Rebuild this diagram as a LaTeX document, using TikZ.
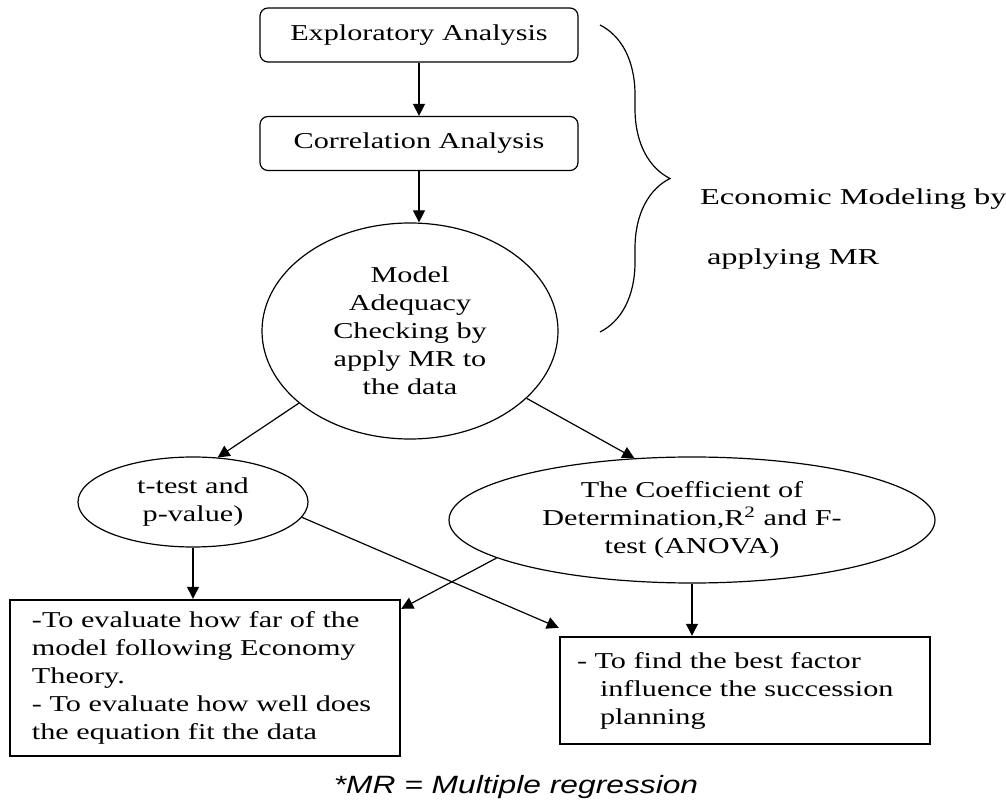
\documentclass[tikz,border=0pt]{standalone}
\usepackage{fontspec}
\setmainfont{Liberation Serif}[FakeStretch=1.33]
\newfontfamily\bracefont{Liberation Serif}[FakeStretch=1.43]
\newfontfamily\notefont{Liberation Sans}[FakeStretch=1.27]
\usepackage{tikz}
\usetikzlibrary{shapes.geometric,arrows.meta,decorations.pathreplacing}
\tikzstyle{roundbox} =[
    draw,
    rounded corners=4pt,
    line width=0.6pt,
    minimum width=159pt,
    minimum height=27pt,
    inner sep=0pt
    ]
\tikzstyle{oval} =[
    draw,
    ellipse,
    line width=0.6pt,
    inner sep=0pt,
    align=center
    ]
\tikzstyle{notebox} =[
    draw,
    rectangle,
    line width=1.2pt,
    inner ysep=0pt,
    align=left
    ]
\tikzstyle{flowarrow} =[
    line width=0.6pt,
    -{Triangle[length=6pt,width=6pt]}
    ]

\begin{document}
\begin{tikzpicture}[x=0.5pt,y=-0.5pt,
    every node/.style={font=\fontsize{11.35pt}{14pt}\selectfont}]
\useasboundingbox (0,0) rectangle (1006,806);

% analysis steps
\node [roundbox] (explore) at (419,35) {Exploratory Analysis};
\node [roundbox] (correl) at (419,143.5) {Correlation Analysis};
\node [oval, minimum width=148pt, minimum height=108pt] (model) at (410,331)
    {Model\\Adequacy\\Checking by\\apply MR to\\the data};

% tests
\node [oval, minimum width=115pt, minimum height=45pt] (ttest) at (193,502)
    {t-test and\\p-value)};
\node [oval, minimum width=243pt, minimum height=63pt] (coef) at (692,520)
    {The Coefficient of\\Determination,R\textsuperscript{2} and F-\\test (ANOVA)};

% outcomes
\node [notebox, inner xsep=11pt, text width=173pt, minimum height=78pt] (evalbox) at (205,678)
    {-To evaluate how far of the\\model following Economy\\Theory.\\- To evaluate how well does\\the equation fit the data};
\node [notebox, inner xsep=8.5pt, text width=168pt, minimum height=53.5pt] (factorbox) at (745,690.5)
    {- To find the best factor\\\hspace*{11.5pt}influence the succession\\\hspace*{11.5pt}planning};

% brace and its label
\coordinate (bracetop) at (600,25);
\coordinate (bracebot) at (600,332);
\draw [line width=0.6pt, decorate, decoration={brace, amplitude=35pt}] (bracetop) -- (bracebot);
\node [anchor=base west, font=\bracefont\fontsize{11.35pt}{14pt}\selectfont] (econ) at (693,205) {Economic Modeling by};
\node [anchor=base west, font=\bracefont\fontsize{11.35pt}{14pt}\selectfont] (applying) at (700,265) {applying MR};

\node [anchor=base, font=\notefont\itshape\fontsize{12.5pt}{14pt}\selectfont] (mrnote) at (516,793) {*MR = Multiple regression};

% connectors
\draw [flowarrow] (explore) -- (correl);
\draw [flowarrow] (correl.south) -- (correl.south |- model.north);
\draw [flowarrow] (model.213) -- (ttest.61);
\draw [flowarrow] (model.330) -- (coef.133);
\draw [flowarrow] (ttest.south) -- (ttest.south |- evalbox.north);
\draw [flowarrow] (coef.south) -- (coef.south |- factorbox.north);
\draw [flowarrow] (coef.191) -- ([yshift=-5pt]evalbox.north east);
\draw [flowarrow] (ttest.352) -- ([yshift=4pt]factorbox.north west);
\end{tikzpicture}
\end{document}
